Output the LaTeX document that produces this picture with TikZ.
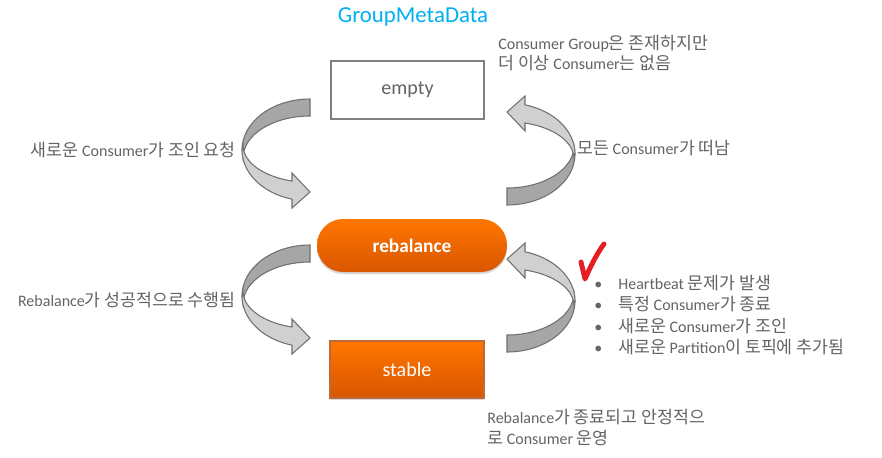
\documentclass[tikz,border=0pt]{standalone}
\usepackage{fontspec}
\setmainfont{Carlito}
\newfontfamily\kr[Scale=1.08]{Noto Sans CJK KR}
\newcommand{\hg}[1]{{\kr #1}}
\newcommand{\bl}{\makebox[0.48cm][l]{\textbullet}}
\usetikzlibrary{shadows}

\definecolor{titleblue}{RGB}{0,176,240}
\definecolor{txtgray}{RGB}{100,100,100}
\definecolor{boxgray}{RGB}{127,127,127}
\definecolor{orangetop}{RGB}{255,118,0}
\definecolor{orangebot}{RGB}{216,86,0}
\definecolor{arrowdark}{RGB}{166,166,166}
\definecolor{arrowlight}{RGB}{208,208,208}
\definecolor{arrowline}{RGB}{112,112,112}
\definecolor{checkred}{RGB}{228,30,36}

\tikzset{
  txt/.style={text=txtgray, inner sep=0pt, font=\fontsize{9.1}{11.6}\selectfont},
  orangebox/.style={top color=orangetop, bottom color=orangebot, text=white,
    drop shadow={shadow xshift=0pt, shadow yshift=-1.2pt, opacity=0.3}},
  % ribbon arrow: back part dark, front part light with the head
  curvedarrow/.pic={
    \filldraw[fill=arrowdark, draw=arrowline, line width=0.6pt]
      (0,-51) arc[start angle=270, end angle=180, x radius=68, y radius=51]
      -- (-67,8) arc[start angle=180, end angle=270, x radius=67, y radius=42] -- cycle;
    \filldraw[fill=arrowlight, draw=arrowline, line width=0.6pt]
      (-68,0) arc[start angle=180, end angle=105.35, x radius=68, y radius=51]
      -- (-18,58) -- (0,42) -- (-18,23) -- (-18,31)
      arc[start angle=105.6, end angle=180, x radius=67, y radius=37] -- cycle;
  }
}

\begin{document}
\begin{tikzpicture}[x=0.02cm, y=-0.02cm]
        \useasboundingbox[fill=white] (0,0) rectangle (882,457);

        % States
        \node[text=titleblue, font=\fontsize{13}{15}\selectfont] (title) at (413,17) {GroupMetaData};
        \node[draw=boxgray, line width=1.1pt, fill=white, minimum width=3.06cm, minimum height=1.16cm,
              text=txtgray, font=\fontsize{11.4}{13}\selectfont] (empty) at (407.5,90) {empty};
        \node[orangebox, rounded corners=0.52cm, minimum width=3.8cm, minimum height=1.06cm,
              font=\bfseries\fontsize{11}{13}\selectfont] (rebalance) at (412,245.5) {rebalance};
        \node[orangebox, draw={rgb,255:red,190;green,105;blue,60}, line width=0.6pt, minimum width=3.08cm,
              minimum height=1.14cm, font=\fontsize{11.4}{13}\selectfont] (stable) at (407,369.5) {stable};

        % Transitions
        \pic at (310,150) {curvedarrow};
        \pic at (310,296) {curvedarrow};
        \pic[rotate=180] at (507,154) {curvedarrow};
        \pic[rotate=180] at (507,301) {curvedarrow};

        % Labels
        \node[txt, anchor=west, align=left] (emptynote) at (498,53)
            {Consumer Group\hg{은 존재하지만}\\\hg{더 이상} Consumer\hg{는 없음}};
        \node[txt, anchor=east] (join) at (236,150) {\hg{새로운} Consumer\hg{가 조인 요청}};
        \node[txt, anchor=west] (leave) at (577,148) {\hg{모든} Consumer\hg{가 떠남}};
        \node[txt, anchor=east] (done) at (236,300) {Rebalance\hg{가 성공적으로 수행됨}};
        \node[txt, anchor=west, align=left, font=\fontsize{9.1}{12.2}\selectfont] (causes) at (594,315)
            {\bl Heartbeat \hg{문제가 발생}\\
             \bl\hg{특정} Consumer\hg{가 종료}\\
             \bl\hg{새로운} Consumer\hg{가 조인}\\
             \bl\hg{새로운} Partition\hg{이 토픽에 추가됨}};
        \node[txt, anchor=west, align=left] (stablenote) at (487,427.5)
            {Rebalance\hg{가 종료되고 안정적으}\\\hg{로} Consumer \hg{운영}};

        % Check mark
        \draw[checkred, line width=2.8pt, line cap=round, line join=round]
            (581,262) .. controls (583,270) .. (585,279) .. controls (592,263) and (598,252) .. (604,244);
    \end{tikzpicture}
\end{document}
